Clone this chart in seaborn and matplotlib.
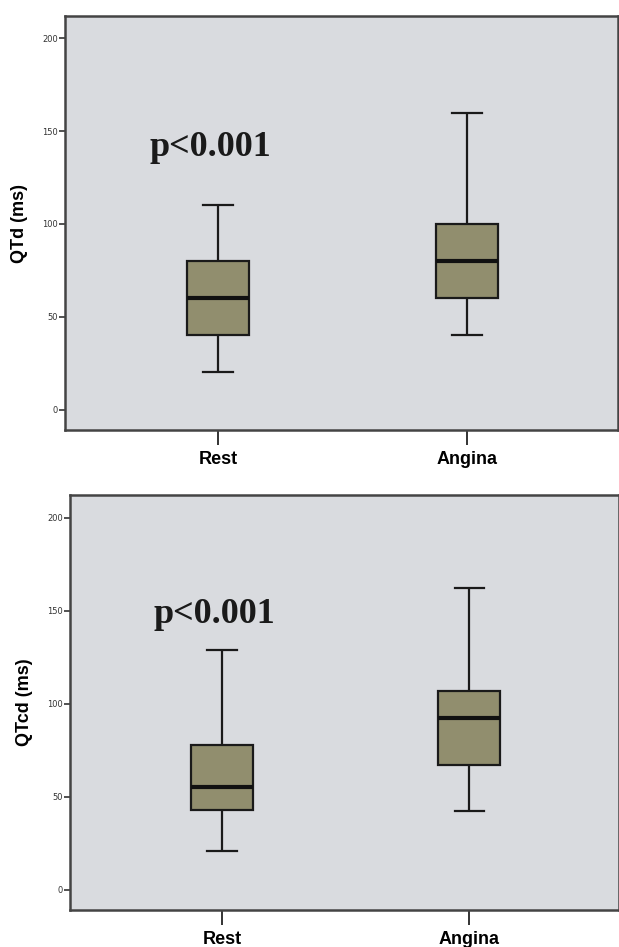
import matplotlib

matplotlib.use("Agg")

import matplotlib.pyplot as plt
import pandas as pd
import seaborn as sns

# five-number summaries (min, q1, median, q3, max)
GROUPS = ["Rest", "Angina"]
QTD_REST = [20, 40, 60, 80, 110]
QTD_ANGINA = [40, 60, 80, 100, 160]
QTCD_REST = [21, 43, 55, 78, 129]
QTCD_ANGINA = [42, 67, 92, 107, 162]
Y_TICKS = [0, 50, 100, 150, 200]
P_LABEL = "p<0.001"

BOX_COLOR = "#918e6e"
PANEL_BG = "#d9dbdf"
EDGE = "#1a1a1a"


def make_frame(rest, angina):
    return pd.DataFrame(
        {
            "group": [GROUPS[0]] * len(rest) + [GROUPS[1]] * len(angina),
            "value": rest + angina,
        }
    )


def draw_panel(ax, df, ylabel, p_y):
    ax.set_facecolor(PANEL_BG)
    sns.boxplot(
        data=df,
        x="group",
        y="value",
        order=GROUPS,
        whis=(0, 100),
        width=0.25,
        color=BOX_COLOR,
        linecolor=EDGE,
        linewidth=1.6,
        capwidths=0.12,
        medianprops={"linewidth": 3, "color": "#111111"},
        ax=ax,
    )
    for patch in ax.patches:
        patch.set_facecolor(BOX_COLOR)
    ax.set_xlim(-0.615, 1.605)
    ax.set_ylim(-11, 212)
    ax.set_yticks(Y_TICKS)
    ax.set_yticklabels([str(t) for t in Y_TICKS], fontsize=6, color="#333333")
    ax.tick_params(axis="y", length=4, width=1.2, pad=1, color="#333333")
    ax.tick_params(axis="x", length=11, width=1.4, pad=4, color="#333333")
    for lab in ax.get_xticklabels():
        lab.set_fontsize(13)
        lab.set_fontweight("bold")
        lab.set_family("Liberation Sans")
    ax.set_xlabel("")
    ax.set_ylabel(ylabel, fontsize=13, fontweight="bold", family="Liberation Sans", labelpad=10)
    for side in ["left", "right", "top", "bottom"]:
        ax.spines[side].set_visible(True)
        ax.spines[side].set_color("#444444")
        ax.spines[side].set_linewidth(1.8)
    ax.text(
        -0.03,
        p_y,
        P_LABEL,
        ha="center",
        va="center",
        fontsize=26,
        fontweight="bold",
        family="Liberation Serif",
        color="#1a1a1a",
    )


fig = plt.figure(figsize=(6.19, 9.47), dpi=100)
fig.patch.set_facecolor("white")
ax_top = fig.add_axes([0.105, 0.546, 0.893, 0.437])
ax_bot = fig.add_axes([0.113, 0.039, 0.887, 0.438])

draw_panel(ax_top, make_frame(QTD_REST, QTD_ANGINA), "QTd (ms)", 141)
draw_panel(ax_bot, make_frame(QTCD_REST, QTCD_ANGINA), "QTcd (ms)", 148)

fig.savefig("out.png", dpi=100, facecolor="white")
